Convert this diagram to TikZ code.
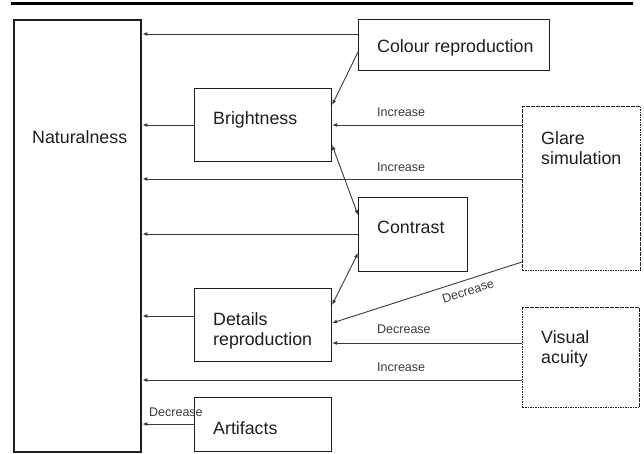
\documentclass[tikz,border=0pt]{standalone}
\usepackage{fontspec}
\setmainfont{Liberation Sans}
\usetikzlibrary{arrows.meta}
\definecolor{ink}{HTML}{1E1E1E}
\definecolor{wire}{HTML}{3A3A3A}
\begin{document}
\begin{tikzpicture}[x=1pt,y=-1pt,
  box/.style={draw=ink, line width=1.1pt, inner sep=0pt, anchor=north west},
  dbox/.style={box, dash pattern=on 1.6pt off 0.9pt, line width=1pt},
  lbl/.style={font=\fontsize{17.8}{20}\selectfont, text=ink, inner sep=0pt, anchor=base west, align=left},
  sml/.style={font=\fontsize{12.5}{14}\selectfont, text=wire, inner sep=0pt, anchor=base west},
  conn/.style={draw=wire, line width=0.9pt, -{Latex[length=5pt,width=4pt]}},
  dconn/.style={draw=wire, line width=0.9pt, {Latex[length=5pt,width=4pt]}-{Latex[length=5pt,width=4pt]}},
]
\useasboundingbox (0,0) rectangle (644,454);
\draw[line width=3pt, black] (11,3.5) -- (633,3.5);

% boxes
\node[box, line width=2.4pt, minimum width=127.5pt, minimum height=432pt] (nat) at (12.5,19) {};
\node[box, minimum width=191pt, minimum height=51pt] (col) at (358,19) {};
\node[box, minimum width=137pt, minimum height=73pt] (bri) at (194,88) {};
\node[box, minimum width=109pt, minimum height=74pt] (con) at (358,197) {};
\node[box, minimum width=137pt, minimum height=73pt] (det) at (194,288) {};
\node[box, minimum width=137pt, minimum height=54pt] (art) at (194,397) {};
\node[dbox, minimum width=118pt, minimum height=164pt] (gla) at (522,106) {};
\node[dbox, minimum width=117pt, minimum height=100pt] (vis) at (522,307) {};

% texts
\node[lbl] (tnat) at (32,143.5) {Naturalness};
\node[lbl] (tcol) at (377,52.4) {Colour reproduction};
\node[lbl] (tbri) at (213,124.4) {Brightness};
\node[lbl] (tcon) at (377,233.4) {Contrast};
\node[lbl] (tdet) at (213,345.4) {Details\\reproduction};
\node[lbl] (tart) at (213,434) {Artifacts};
\node[lbl] (tgla) at (541,164.4) {Glare\\simulation};
\node[lbl] (tvis) at (541,363.4) {Visual\\acuity};

% connectors
\draw[conn] (col.west |- 0,34) -- (nat.east |- 0,34);
\draw[conn] (col.west |- 0,52) -- (bri.east |- 0,105);
\draw[conn] (bri.west |- 0,125) -- (nat.east |- 0,125);
\draw[conn] (gla.west |- 0,125) -- (bri.east |- 0,125);
\draw[conn] (gla.west |- 0,179) -- (nat.east |- 0,179);
\draw[dconn] (bri.east |- 0,145) -- (con.west |- 0,215);
\draw[conn] (con.west |- 0,234) -- (nat.east |- 0,234);
\draw[dconn] (con.west |- 0,253) -- (det.east |- 0,305);
\draw[conn] (gla.west |- 0,262) -- (det.east |- 0,323);
\draw[conn] (det.west |- 0,316) -- (nat.east |- 0,316);
\draw[conn] (vis.west |- 0,343) -- (det.east |- 0,343);
\draw[conn] (vis.west |- 0,380) -- (nat.east |- 0,380);
\draw[conn] (art.west |- 0,424) -- (nat.east |- 0,424);

% connector labels
\node[sml] (l1) at (377,116.5) {Increase};
\node[sml] (l2) at (377,171.5) {Increase};
\node[sml, anchor=center, rotate=17.7] (l3) at (468,291) {Decrease};
\node[sml] (l4) at (377,333.5) {Decrease};
\node[sml] (l5) at (377,371.5) {Increase};
\node[sml] (l6) at (149,416.5) {Decrease};
\end{tikzpicture}
\end{document}
